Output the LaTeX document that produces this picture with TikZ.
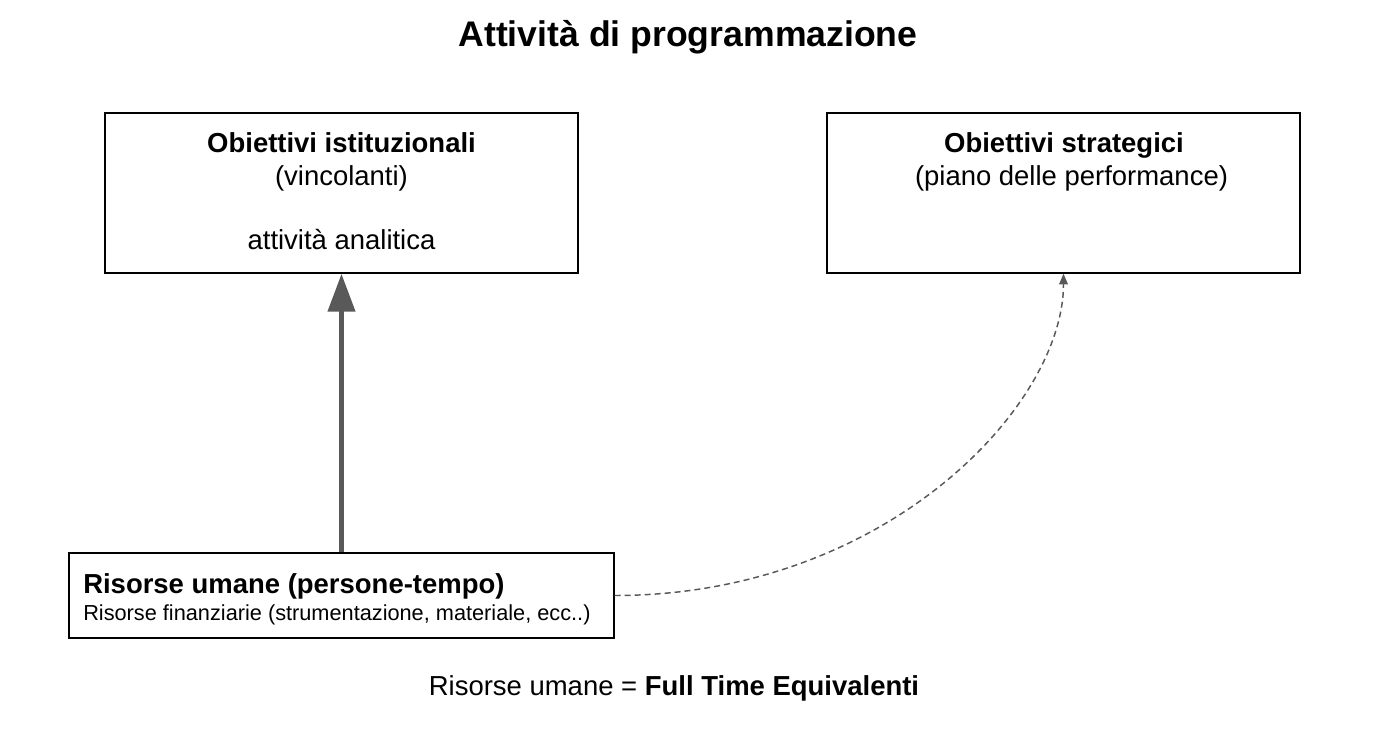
\documentclass[tikz,border=0pt]{standalone}
\usepackage{fontspec}
\setmainfont{Liberation Sans}
\usepackage{tikz}
\usetikzlibrary{arrows.meta}
\definecolor{arrowgray}{HTML}{595959}
\newcommand{\fstitle}{\fontsize{26.7}{32}\selectfont}
\newcommand{\fsbody}{\fontsize{20.6}{24}\selectfont}
\newcommand{\fssmall}{\fontsize{16.3}{19}\selectfont}
\tikzstyle{goalbox}=[draw=black,line width=1pt,inner sep=0pt,
                     minimum width=354.75pt,minimum height=120pt]
\tikzstyle{linetext}=[inner sep=0pt,anchor=base,font=\fsbody]
\tikzstyle{mainarrow}=[draw=arrowgray,line width=4pt,
                       -{Triangle[length=28.5pt,width=20pt]}]
\tikzstyle{sidearrow}=[draw=arrowgray,line width=1.1pt,
                       dash pattern=on 4.5pt off 3pt,
                       -{Triangle[length=8pt,width=6.5pt]}]

\begin{document}
\begin{tikzpicture}[x=0.75pt,y=-0.75pt]
    \useasboundingbox (0,0) rectangle (1378,748);
    \node (title) at (688,47) [linetext,font=\fstitle\bfseries]{Attività di programmazione};
    \node (ist) at (341.5,193) [goalbox]{};
    \node (str) at (1063.5,193) [goalbox]{};
    \node (res) at (341.5,595.5) [goalbox,minimum width=408.75pt,minimum height=63.75pt]{};
    \node (ist1) at (341.5,153) [linetext]{\textbf{Obiettivi istituzionali}};
    \node (ist2) at (341.5,185.5) [linetext]{(vincolanti)};
    \node (ist3) at (341.5,250) [linetext]{attività analitica};
    \node (str1) at (1064,153) [linetext]{\textbf{Obiettivi strategici}};
    \node (str2) at (1071.5,186) [linetext]{(piano delle performance)};
    \node (hum) at (83,593) [linetext,anchor=base west,font=\fsbody\bfseries]{Risorse umane (persone-tempo)};
    \node (fin) at (83,620) [linetext,anchor=base west,font=\fssmall]{Risorse finanziarie (strumentazione, materiale, ecc..)};
    \node (fte) at (674,695) [linetext]{Risorse umane = \textbf{Full Time Equivalenti}};
    \draw[mainarrow] (res.north) -- (ist.south);
    \draw[sidearrow] (res.east) .. controls +(270,0) and +(0,133) .. (str.south);
\end{tikzpicture}
\end{document}
